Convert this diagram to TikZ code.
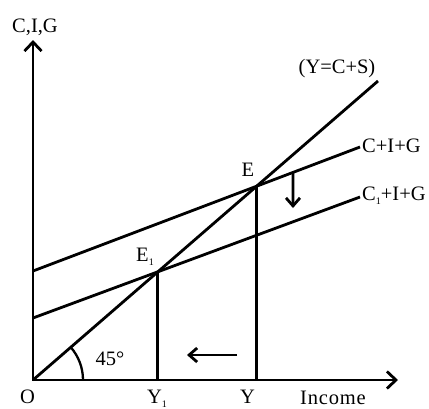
\documentclass[tikz,border=0pt]{standalone}
\usepackage{fontspec}
\setmainfont{Liberation Serif}
\usetikzlibrary{arrows.meta, positioning, calc}
\newcommand{\subone}{\raisebox{-0.45ex}{\fontsize{10}{10}\selectfont 1}}

\begin{document}
\begin{tikzpicture}[x=1pt, y=-1pt,
    font=\fontsize{20.5}{23}\selectfont,
    axis/.style={line width=2.8pt,
        {Straight Barb[length=9pt,width=17pt]}-{Straight Barb[length=9pt,width=17pt]}},
    curve/.style={line width=2.8pt},
    move/.style={line width=2.8pt, -{Straight Barb[length=8pt,width=14pt]}},
    lbl/.style={inner sep=0pt, anchor=base}
]
\useasboundingbox (0,0) rectangle (429,408);

% axes
\coordinate (O) at (33,380);
\coordinate (ytip) at (33,40);
\coordinate (xtip) at (398,380);
\draw[axis] (ytip) -- (O) -- (xtip);

% schedules
\coordinate (T) at (378,81);
\coordinate (A) at (33,271);
\coordinate (B) at (360,147);
\coordinate (A1) at (33,318);
\coordinate (B1) at (360,197);
\draw[curve] (O) -- (T);
\draw[curve] (A) -- (B);
\draw[curve] (A1) -- (B1);

\coordinate (E) at (intersection of O--T and A--B);
\coordinate (E1) at (intersection of O--T and A1--B1);
\draw[curve] (E) -- (E |- O);
\draw[curve] (E1) -- (E1 |- O);

% 45 degree mark
\draw[line width=2.3pt] ($(O)+(50,0)$) arc[start angle=0, end angle=-40.9, radius=50];

% shifts
\coordinate (d0) at ($(A)!0.795!(B)$);
\coordinate (d1) at (293,208);
\draw[move] (d0) -- (d1);
\coordinate (l0) at (237,355);
\coordinate (l1) at (187,355);
\draw[move] (l0) -- (l1);

% labels
\node[lbl] (cig) at (35,32) {C,I,G};
\node[lbl] (yeq) at (337,73) {(Y=C+S)};
\node[lbl, anchor=base west] (sch) at (362,152) {C+I+G};
\node[lbl, anchor=base west] (sch1) at (362,200) {C\subone+I+G};
\node[lbl] (le) at (248,176) {E};
\node[lbl] (le1) at (145,261) {E\subone};
\node[lbl] (lo) at (27.5,403) {O};
\node[lbl] (ly1) at (157,403) {Y\subone};
\node[lbl] (ly) at (247.5,403) {Y};
\node[lbl] (inc) at (333,404) {\addfontfeature{LetterSpace=4}Income};
\node[lbl] (ang) at (110,365) {45°};
\end{tikzpicture}
\end{document}
